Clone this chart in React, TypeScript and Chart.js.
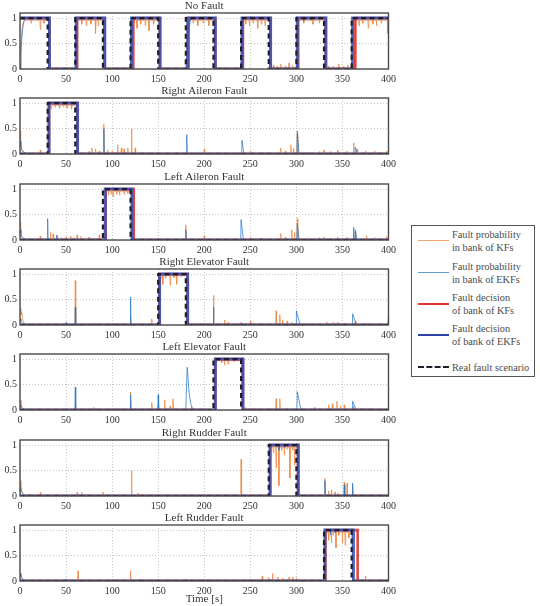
import { useEffect, useRef } from "react";
import { Chart, registerables } from "chart.js";

Chart.register(...registerables);

type P = [number, number];
type S = [number, number, number?];

const TITLES = [
  "No Fault",
  "Right Aileron Fault",
  "Left Aileron Fault",
  "Right Elevator Fault",
  "Left Elevator Fault",
  "Right Rudder Fault",
  "Left Rudder Fault",
];
const X_TICKS = [0, 50, 100, 150, 200, 250, 300, 350, 400];
const Y_TICKS = [0, 0.5, 1];
const Y_TICK_LABELS = ["0", "0.5", "1"];
const LEGEND_LABELS = [
  ["Fault probability", "in bank of KFs"],
  ["Fault probability", "in bank of EKFs"],
  ["Fault decision", "of bank of KFs"],
  ["Fault decision", "of bank of EKFs"],
  ["Real fault scenario"],
];

// ---------- Real fault scenario ----------
const REAL_NF: P[] = [[0,1],[30,1],[30,0],[60,0],[60,1],[90,1],[90,0],[120,0],[120,1],[150,1],[150,0],[180,0],[180,1],[210,1],[210,0],[240,0],[240,1],[270,1],[270,0],[300,0],[300,1],[330,1],[330,0],[360,0],[360,1],[400,1]];
const REAL_RA: P[] = [[0,0],[30,0],[30,1],[60,1],[60,0],[400,0]];
const REAL_LA: P[] = [[0,0],[90,0],[90,1],[120,1],[120,0],[400,0]];
const REAL_RE: P[] = [[0,0],[150,0],[150,1],[180,1],[180,0],[400,0]];
const REAL_LE: P[] = [[0,0],[210,0],[210,1],[240,1],[240,0],[400,0]];
const REAL_RR: P[] = [[0,0],[270,0],[270,1],[300,1],[300,0],[400,0]];
const REAL_LR: P[] = [[0,0],[330,0],[330,1],[360,1],[360,0],[400,0]];

// ---------- Fault decisions ----------
const KFDEC_NF: P[] = [[0,1],[32,1],[32,0],[62,0],[62,1],[92,1],[92,0],[123,0],[123,1],[152,1],[152,0],[183,0],[183,1],[212,1],[212,0],[242,0],[242,1],[272,1],[272,0],[302,0],[302,1],[332,1],[332,0],[364,0],[364,1],[400,1]];
const EKFDEC_NF: P[] = [[0,1],[32,1],[32,0],[61,0],[61,1],[92,1],[92,0],[121,0],[121,1],[152,1],[152,0],[182,0],[182,1],[212,1],[212,0],[241,0],[241,1],[272,1],[272,0],[301,0],[301,1],[332,1],[332,0],[361,0],[361,1],[400,1]];
const KFDEC_RA: P[] = [[0,0],[31.5,0],[31.5,1],[62.5,1],[62.5,0],[400,0]];
const EKFDEC_RA: P[] = [[0,0],[31.5,0],[31.5,1],[62.5,1],[62.5,0],[400,0]];
const KFDEC_LA: P[] = [[0,0],[93,0],[93,1],[123.5,1],[123.5,0],[400,0]];
const EKFDEC_LA: P[] = [[0,0],[92.5,0],[92.5,1],[121.5,1],[121.5,0],[400,0]];
const KFDEC_RE: P[] = [[0,0],[151.5,0],[151.5,1],[182,1],[182,0],[400,0]];
const EKFDEC_RE: P[] = [[0,0],[151.5,0],[151.5,1],[182,1],[182,0],[400,0]];
const KFDEC_LE: P[] = [[0,0],[212,0],[212,1],[242,1],[242,0],[400,0]];
const EKFDEC_LE: P[] = [[0,0],[212,0],[212,1],[242,1],[242,0],[400,0]];
const KFDEC_RR: P[] = [[0,0],[271.5,0],[271.5,1],[302,1],[302,0],[400,0]];
const EKFDEC_RR: P[] = [[0,0],[271.5,0],[271.5,1],[302,1],[302,0],[400,0]];
const KFDEC_LR: P[] = [[0,0],[331.5,0],[331.5,1],[366.5,1],[366.5,0],[400,0]];
const EKFDEC_LR: P[] = [[0,0],[331,0],[331,1],[362,1],[362,0],[400,0]];

// ---------- Fault probabilities: backbone, dips (below plateau), spikes (above baseline) ----------
const KF_NF: P[] = [[0,0],[1,0.45],[2,0.75],[3,0.88],[5,0.95],[7,0.96],[31,0.96],[32,0.02],[61,0.02],[62,0.9],[63,0.96],[91,0.96],[92,0.02],[122,0.02],[123,0.85],[124,0.96],[151,0.96],[152,0.02],[181,0.02],[182,0.88],[183,0.96],[211,0.96],[212,0.02],[241,0.02],[242,0.9],[243,0.96],[271,0.96],[272,0.02],[301,0.02],[302,0.9],[303,0.96],[331,0.96],[332,0.02],[363,0.02],[364,0.9],[365,0.96],[400,0.96]];
const KF_NF_DIPS: S[] = [[12,0.9],[22,0.78],[26,0.9],[67,0.88],[72,0.85],[77,0.88],[82,0.7],[85,0.85],[127,0.8],[131,0.88],[136,0.85],[140,0.75],[145,0.88],[188,0.9],[193,0.85],[199,0.9],[205,0.85],[245,0.88],[249,0.85],[253,0.9],[258,0.8],[262,0.88],[266,0.85],[308,0.9],[318,0.88],[325,0.9],[368,0.85],[372,0.9],[378,0.8],[383,0.88],[387,0.85],[392,0.9],[399,0.7]];
const KF_NF_SPIKES: S[] = [[275,0.08],[279,0.05],[283,0.1],[288,0.06],[292,0.12],[296,0.07],[335,0.06],[340,0.05],[346,0.1],[351,0.05],[356,0.08]];
const EKF_NF: P[] = [[0,0],[1,0.3],[2,0.6],[3,0.8],[4,0.92],[5,0.98],[6,0.995],[31,0.995],[32,0.005],[60,0.005],[61,0.6],[62,0.9],[63,0.995],[91,0.995],[92,0.005],[120,0.005],[121,0.8],[122,0.995],[151,0.995],[152,0.005],[180,0.005],[181,0.25],[182,0.5],[183,0.7],[184,0.85],[185,0.95],[186,0.995],[211,0.995],[212,0.005],[240,0.005],[241,0.8],[242,0.995],[271,0.995],[272,0.005],[300,0.005],[301,0.8],[302,0.995],[331,0.995],[332,0.005],[360,0.005],[361,0.8],[362,0.995],[400,0.995]];
const EKF_NF_DIPS: S[] = [[308,0.95],[316,0.96]];
const EKF_NF_SPIKES: S[] = [];

const KF_RA: P[] = [[0,0.45],[0.7,0.2],[2,0.06],[4,0.02],[31,0.02],[32,0.9],[33,0.96],[61,0.96],[62,0.02],[400,0.02]];
const KF_RA_DIPS: S[] = [[34,0.88],[38,0.92],[43,0.9],[47,0.93],[51,0.9],[56,0.88]];
const KF_RA_SPIKES: S[] = [[22,0.08],[75,0.05],[78,0.12],[82,0.1],[86,0.06],[91,0.58],[95,0.08],[100,0.05],[106,0.18],[110,0.12],[113,0.1],[117,0.12],[121,0.5],[125,0.12],[132,0.04],[140,0.03],[150,0.04],[170,0.04],[200,0.1],[215,0.03],[250,0.05],[262,0.04],[270,0.04],[283,0.12],[288,0.06],[294,0.18],[297,0.12],[301,0.4],[312,0.04],[325,0.05],[330,0.08],[337,0.05],[345,0.08],[355,0.05],[362,0.22],[366,0.1],[375,0.06],[385,0.06],[392,0.04],[398,0.06]];
const EKF_RA: P[] = [[0,0.25],[1,0.15],[2,0.09],[4,0.04],[7,0.005],[31,0.005],[31.5,0.8],[32,0.995],[61,0.995],[62,0.005],[400,0.005]];
const EKF_RA_DIPS: S[] = [];
const EKF_RA_SPIKES: S[] = [[91,0.5],[181,0.38],[241,0.27,2],[301,0.45,2],[364,0.14,2]];

const KF_LA: P[] = [[0,0.35],[0.7,0.15],[2,0.05],[4,0.02],[92,0.02],[93,0.9],[94,0.96],[122,0.96],[123,0.02],[400,0.02]];
const KF_LA_DIPS: S[] = [[96,0.88],[99,0.9],[101,0.85],[105,0.9],[108,0.88],[113,0.9],[117,0.92]];
const KF_LA_SPIKES: S[] = [[22,0.08],[33,0.15],[36,0.12],[40,0.08],[45,0.05],[50,0.06],[55,0.08],[58,0.05],[62,0.1],[66,0.07],[75,0.06],[80,0.04],[86,0.1],[132,0.03],[150,0.03],[180,0.3],[200,0.08],[215,0.03],[250,0.05],[262,0.04],[283,0.13],[288,0.05],[295,0.2],[298,0.15],[301,0.42],[312,0.04],[325,0.05],[330,0.05],[337,0.04],[345,0.06],[355,0.05],[364,0.15],[376,0.08],[385,0.05],[398,0.07]];
const EKF_LA: P[] = [[0,0.2],[1,0.12],[2,0.07],[4,0.03],[7,0.005],[92,0.005],[92.5,0.8],[93,0.995],[121,0.995],[121.5,0.005],[400,0.005]];
const EKF_LA_DIPS: S[] = [];
const EKF_LA_SPIKES: S[] = [[30,0.42],[40,0.1],[180,0.2],[240,0.4,2.5],[301,0.32,2],[362,0.25],[364,0.2,1.5]];

const KF_RE: P[] = [[0,0.32],[1,0.2],[2,0.25],[3,0.1],[5,0.02],[151,0.02],[152,0.9],[153,0.97],[181,0.97],[182,0.02],[399,0.02],[400,0.2]];
const KF_RE_DIPS: S[] = [[155,0.8],[158,0.92],[163,0.78],[167,0.93],[170,0.8],[175,0.95]];
const KF_RE_SPIKES: S[] = [[50,0.03],[60,0.87],[80,0.04],[100,0.03],[120,0.15],[130,0.03],[143,0.12],[200,0.03],[210,0.58],[222,0.1],[226,0.05],[240,0.05],[245,0.04],[250,0.08],[262,0.03],[278,0.28],[282,0.2],[285,0.1],[290,0.08],[295,0.05],[312,0.03],[333,0.06],[340,0.05],[345,0.06],[352,0.04],[364,0.08],[375,0.04]];
const EKF_RE: P[] = [[0,0.12],[1,0.08],[3,0.03],[6,0.005],[151,0.005],[151.5,0.8],[152,0.995],[181,0.995],[181.5,0.005],[400,0.005]];
const EKF_RE_DIPS: S[] = [];
const EKF_RE_SPIKES: S[] = [[50,0.05],[60,0.35],[120,0.55],[210,0.35],[240,0.04],[300,0.28,4],[361,0.22,4]];

const KF_LE: P[] = [[0,0.2],[1,0.1],[3,0.03],[5,0.02],[212,0.02],[213,0.9],[214,0.97],[241,0.97],[242,0.02],[400,0.02]];
const KF_LE_DIPS: S[] = [[219,0.93],[222,0.88],[226,0.9],[232,0.95]];
const KF_LE_SPIKES: S[] = [[20,0.03],[80,0.05],[100,0.02],[120,0.35],[143,0.15],[150,0.1],[157,0.2],[163,0.08],[166,0.22],[186,0.05],[245,0.05],[255,0.04],[270,0.03],[278,0.22],[282,0.22],[290,0.03],[335,0.1],[339,0.12],[344,0.17],[348,0.08],[352,0.1],[362,0.08],[370,0.04],[380,0.04]];
const EKF_LE: P[] = [[0,0.1],[1,0.06],[3,0.02],[5,0.005],[180,0.005],[180.5,0.3],[181.5,0.84],[182.5,0.6],[183.5,0.35],[185,0.15],[187,0.03],[189,0.005],[212,0.005],[212.5,0.8],[213,0.995],[241,0.995],[241.5,0.005],[400,0.005]];
const EKF_LE_DIPS: S[] = [];
const EKF_LE_SPIKES: S[] = [[60,0.45],[120,0.3],[150,0.3],[301,0.36,4],[320,0.05],[361,0.17,4]];

const KF_RR: P[] = [[0,0.3],[1,0.15],[3,0.05],[5,0.02],[271,0.02],[272,0.9],[273,0.96],[301,0.96],[302,0.02],[400,0.02]];
const KF_RR_DIPS: S[] = [[275,0.85],[278,0.55],[281,0.2],[284,0.9],[287,0.8],[290,0.92],[293,0.35],[296,0.9],[298,0.6]];
const KF_RR_SPIKES: S[] = [[10,0.04],[22,0.07],[40,0.03],[62,0.07],[67,0.07],[90,0.08],[121,0.5],[128,0.06],[133,0.04],[150,0.02],[180,0.03],[240,0.72],[260,0.03],[331,0.35],[335,0.1],[338,0.12],[342,0.08],[345,0.06],[352,0.27],[355,0.25],[361,0.2],[370,0.04]];
const EKF_RR: P[] = [[0,0.15],[1,0.1],[3,0.04],[6,0.005],[271,0.005],[271.5,0.8],[272,0.995],[301,0.995],[301.5,0.005],[400,0.005]];
const EKF_RR_DIPS: S[] = [[281,0.9],[287,0.95]];
const EKF_RR_SPIKES: S[] = [[331,0.3],[352,0.22],[361,0.25]];

const KF_LR: P[] = [[0,0.12],[1,0.08],[3,0.03],[5,0.02],[331,0.02],[332,0.9],[333,0.96],[360,0.96],[361,0.02],[400,0.02]];
const KF_LR_DIPS: S[] = [[335,0.8],[338,0.75],[340,0.9],[343,0.65],[346,0.9],[350,0.75],[353,0.7],[357,0.85]];
const KF_LR_SPIKES: S[] = [[50,0.04],[63,0.2],[120,0.2],[130,0.04],[180,0.04],[250,0.03],[263,0.1],[270,0.07],[274,0.15],[280,0.08],[285,0.06],[292,0.07],[296,0.08],[300,0.06],[375,0.1]];
const EKF_LR: P[] = [[0,0.15],[1,0.1],[3,0.04],[6,0.005],[331,0.005],[331.5,0.8],[332,0.995],[361,0.995],[361.5,0.005],[400,0.005]];
const EKF_LR_DIPS: S[] = [[337,0.9],[342,0.95]];
const EKF_LR_SPIKES: S[] = [[50,0.03],[130,0.03],[180,0.04]];

// ---------- assembling ----------
const marks = (list: S[], base: number): P[] =>
  list.flatMap(([t, v, w]) => [[t - 0.4, base], [t, v], [t + (w ?? 0.5), base]] as P[]);

const prob = (backbone: P[], dips: S[], dipBase: number, spikes: S[], spikeBase: number) =>
  [...backbone, ...marks(dips, dipBase), ...marks(spikes, spikeBase)]
    .sort((a, b) => a[0] - b[0])
    .map(([x, y]) => ({ x, y }));

const pts = (a: P[]) => a.map(([x, y]) => ({ x, y }));

const PANELS = [
  { real: REAL_NF, kfDec: KFDEC_NF, ekfDec: EKFDEC_NF, kf: prob(KF_NF, KF_NF_DIPS, 0.96, KF_NF_SPIKES, 0.02), ekf: prob(EKF_NF, EKF_NF_DIPS, 0.995, EKF_NF_SPIKES, 0.005) },
  { real: REAL_RA, kfDec: KFDEC_RA, ekfDec: EKFDEC_RA, kf: prob(KF_RA, KF_RA_DIPS, 0.96, KF_RA_SPIKES, 0.02), ekf: prob(EKF_RA, EKF_RA_DIPS, 0.995, EKF_RA_SPIKES, 0.005) },
  { real: REAL_LA, kfDec: KFDEC_LA, ekfDec: EKFDEC_LA, kf: prob(KF_LA, KF_LA_DIPS, 0.96, KF_LA_SPIKES, 0.02), ekf: prob(EKF_LA, EKF_LA_DIPS, 0.995, EKF_LA_SPIKES, 0.005) },
  { real: REAL_RE, kfDec: KFDEC_RE, ekfDec: EKFDEC_RE, kf: prob(KF_RE, KF_RE_DIPS, 0.97, KF_RE_SPIKES, 0.02), ekf: prob(EKF_RE, EKF_RE_DIPS, 0.995, EKF_RE_SPIKES, 0.005) },
  { real: REAL_LE, kfDec: KFDEC_LE, ekfDec: EKFDEC_LE, kf: prob(KF_LE, KF_LE_DIPS, 0.97, KF_LE_SPIKES, 0.02), ekf: prob(EKF_LE, EKF_LE_DIPS, 0.995, EKF_LE_SPIKES, 0.005) },
  { real: REAL_RR, kfDec: KFDEC_RR, ekfDec: EKFDEC_RR, kf: prob(KF_RR, KF_RR_DIPS, 0.96, KF_RR_SPIKES, 0.02), ekf: prob(EKF_RR, EKF_RR_DIPS, 0.995, EKF_RR_SPIKES, 0.005) },
  { real: REAL_LR, kfDec: KFDEC_LR, ekfDec: EKFDEC_LR, kf: prob(KF_LR, KF_LR_DIPS, 0.96, KF_LR_SPIKES, 0.02), ekf: prob(EKF_LR, EKF_LR_DIPS, 0.995, EKF_LR_SPIKES, 0.005) },
];

const C_KF = "rgba(240,140,70,0.8)";
const C_EKF = "rgba(40,120,200,0.75)";
const C_KFDEC = "rgba(225,50,50,0.9)";
const C_EKFDEC = "rgba(55,85,185,0.85)";
const C_REAL = "#1e1e28";
const FONT = '"Liberation Serif", "Times New Roman", serif';

const PANEL_H = 85;
const LAST_H = 94;
const PANEL_TOPS = [0, 85, 171, 256, 341, 427, 512];

const framePlugin = {
  id: "frame",
  afterDatasetsDraw(chart: any, _a: any, opts: any) {
    const { ctx, chartArea: a } = chart;
    ctx.save();
    ctx.strokeStyle = "#4a4a4a";
    ctx.lineWidth = 1.4;
    ctx.strokeRect(a.left, a.top, a.right - a.left, a.bottom - a.top);
    ctx.fillStyle = "#333";
    ctx.font = `11px ${FONT}`;
    ctx.textAlign = "center";
    ctx.textBaseline = "middle";
    ctx.fillText(opts.text, (a.left + a.right) / 2, a.top - 6.5);
    ctx.restore();
  },
};

function Panel({ idx }: { idx: number }) {
  const ref = useRef<HTMLCanvasElement>(null);
  const last = idx === PANELS.length - 1;
  const h = last ? LAST_H : PANEL_H;
  useEffect(() => {
    const p = PANELS[idx];
    const lineDs = (label: string, data: any[], color: string, width: number, dash: number[] = []) => ({
      label,
      data,
      borderColor: color,
      backgroundColor: color,
      borderWidth: width,
      borderDash: dash,
      pointRadius: 0,
      fill: false,
      tension: 0,
      borderJoinStyle: "miter" as const,
    });
    const chart = new Chart(ref.current!, {
      type: "line",
      data: {
        datasets: [
          lineDs("Real fault scenario", pts(p.real), C_REAL, 2.2, [5, 3.5]),
          lineDs("Fault decision of bank of EKFs", pts(p.ekfDec), C_EKFDEC, 3),
          lineDs("Fault decision of bank of KFs", pts(p.kfDec), C_KFDEC, 2.6),
          lineDs("Fault probability in bank of EKFs", p.ekf, C_EKF, 1),
          lineDs("Fault probability in bank of KFs", p.kf, C_KF, 1),
        ],
      },
      options: {
        responsive: false,
        animation: false,
        events: [],
        layout: { padding: { top: 13, right: 8, left: 0, bottom: 0 } },
        plugins: {
          legend: { display: false },
          tooltip: { enabled: false },
          frame: { text: TITLES[idx] },
        } as any,
        scales: {
          x: {
            type: "linear",
            min: 0,
            max: 400,
            afterBuildTicks: (s: any) => { s.ticks = X_TICKS.map((v) => ({ value: v })); },
            afterFit: (s: any) => { s.height = h - 69; },
            ticks: { font: { family: FONT, size: 10 }, color: "#333", padding: 4, maxRotation: 0, autoSkip: false },
            grid: { color: "#c4c4c4", lineWidth: 1, drawTicks: false },
            border: { display: false, dash: [1, 2] },
            title: last
              ? { display: true, text: "Time [s]", font: { family: FONT, size: 11 }, color: "#333", padding: { top: 0, bottom: 0 } }
              : { display: false },
          },
          y: {
            type: "linear",
            min: 0,
            max: 1.1,
            afterBuildTicks: (s: any) => { s.ticks = Y_TICKS.map((v) => ({ value: v })); },
            afterFit: (s: any) => { s.width = 20; },
            ticks: {
              font: { family: FONT, size: 10 },
              color: "#333",
              padding: 3,
              callback: (v: any) => Y_TICK_LABELS[Y_TICKS.indexOf(Number(v))] ?? "",
            },
            grid: { color: "#c4c4c4", lineWidth: 1, drawTicks: false },
            border: { display: false, dash: [1, 2] },
          },
        },
      },
      plugins: [framePlugin],
    });
    return () => chart.destroy();
  }, [idx, h]);
  return (
    <canvas
      ref={ref}
      width={400}
      height={h}
      style={{ position: "absolute", left: 0, top: PANEL_TOPS[idx], width: 400, height: h }}
    />
  );
}

function Legend() {
  const rows = [
    { color: C_KF, width: 1.2, dash: false },
    { color: C_EKF, width: 1.2, dash: false },
    { color: "rgb(225,50,50)", width: 2.2, dash: false },
    { color: "rgb(45,65,170)", width: 2.2, dash: false },
    { color: C_REAL, width: 2.2, dash: true },
  ];
  const centers = [240, 272, 303, 334, 366];
  return (
    <div
      style={{
        position: "absolute",
        left: 411,
        top: 225,
        width: 124,
        height: 152,
        border: "1px solid #555",
        boxSizing: "border-box",
        background: "#fff",
        fontFamily: FONT,
        fontSize: 10.3,
        color: "#4a4a4a",
      }}
    >
      {rows.map((r, i) => (
        <div key={i}>
          <div
            style={{
              position: "absolute",
              left: 6,
              top: centers[i] - 225 - r.width / 2,
              width: 31,
              height: 0,
              borderTop: `${r.width}px ${r.dash ? "dashed" : "solid"} ${r.color}`,
            }}
          />
          <div
            style={{
              position: "absolute",
              left: 40,
              top: centers[i] - 225 - (LEGEND_LABELS[i].length * 13) / 2,
              lineHeight: "13px",
              whiteSpace: "nowrap",
            }}
          >
            {LEGEND_LABELS[i].map((t, j) => (
              <div key={j}>{t}</div>
            ))}
          </div>
        </div>
      ))}
    </div>
  );
}

export default function App() {
  return (
    <div style={{ position: "absolute", left: 0, top: 0, width: 540, height: 606, background: "#fff" }}>
      {PANELS.map((_, i) => (
        <Panel key={i} idx={i} />
      ))}
      <Legend />
    </div>
  );
}
